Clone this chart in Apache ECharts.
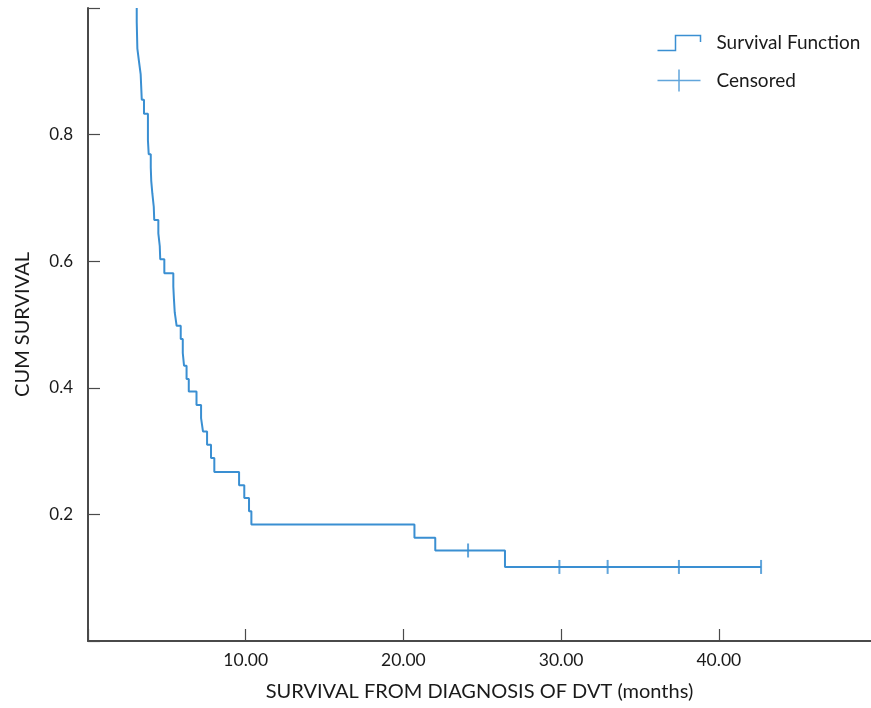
<!DOCTYPE html>
<html>
<head>
<meta charset="utf-8">
<script src="https://cdn.jsdelivr.net/npm/echarts@6/dist/echarts.min.js"></script>
<style>
  html, body { margin: 0; padding: 0; background: #fff; }
  #chart { width: 871px; height: 708px; }
</style>
</head>
<body>
<div id="chart"></div>
<script>
// Kaplan-Meier steps (months, cumulative survival after the drop)
const eventTimes = [3.09, 3.13, 3.23, 3.34, 3.41, 3.55, 3.80, 3.85, 3.98, 4.01,
  4.08, 4.17, 4.20, 4.46, 4.55, 4.58, 4.84, 5.41, 5.45, 5.50,
  5.62, 5.88, 6.01, 6.09, 6.25, 6.39, 6.88, 7.17, 7.29, 7.55,
  7.80, 8.01, 9.58, 9.91, 10.21, 10.36, 20.70, 22.02, 26.44];
const survival = [0.978, 0.936, 0.916, 0.895, 0.855, 0.833, 0.791, 0.769, 0.748, 0.727,
  0.707, 0.686, 0.665, 0.644, 0.624, 0.603, 0.581, 0.560, 0.540, 0.519,
  0.498, 0.477, 0.455, 0.435, 0.414, 0.394, 0.373, 0.352, 0.331, 0.310,
  0.289, 0.267, 0.246, 0.226, 0.205, 0.184, 0.163, 0.143, 0.117];
const censorTimes = [24.10, 29.89, 32.95, 37.47, 42.68];
const censorSurvival = [0.143, 0.117, 0.117, 0.117, 0.117];
const lastFollowUp = 42.68;

const xTicks = [10, 20, 30, 40];
const yTicks = [0.2, 0.4, 0.6, 0.8];

const BLUE = '#3a8fd2';
const AXIS = '#4a4a4a';
const FONT = 'Lato';

const curve = [[eventTimes[0], 1.0]];
eventTimes.forEach((t, i) => curve.push([t, survival[i]]));
curve.push([lastFollowUp, survival[survival.length - 1]]);

const censored = censorTimes.map((t, i) => [t, censorSurvival[i]]);

const chart = echarts.init(document.getElementById('chart'), null, { renderer: 'canvas' });

const legendText = { fontFamily: FONT, fontSize: 19, color: '#1a1a1a' };

chart.setOption({
  animation: false,
  backgroundColor: '#fff',
  textStyle: { fontFamily: FONT },
  grid: { left: 88, right: 0, top: 8, bottom: 67 },
  legend: [
    {
      data: [{
        name: 'Survival Function',
        icon: 'path://M0,15 L18,15 L18,0 L43,0 L43,6.5',
        itemStyle: { color: 'none', borderColor: BLUE, borderWidth: 1.5 }
      }],
      left: 655, top: 33, padding: 0,
      itemWidth: 43, itemHeight: 15,
      textStyle: Object.assign({ padding: [0, 0, 0, 11] }, legendText)
    },
    {
      data: [{
        name: 'Censored',
        icon: 'path://M0,11 L43,11 M21.5,0 L21.5,22',
        itemStyle: { color: 'none', borderColor: BLUE, borderWidth: 1.5 }
      }],
      left: 655, top: 67, padding: 0,
      itemWidth: 43, itemHeight: 22,
      textStyle: Object.assign({ padding: [0, 0, 11, 11] }, legendText)
    }
  ],
  xAxis: {
    type: 'value',
    min: 0,
    max: 49.65,
    interval: 10,
    name: 'SURVIVAL FROM DIAGNOSIS OF DVT (months)',
    nameLocation: 'middle',
    nameGap: 41,
    nameTextStyle: { fontFamily: FONT, fontSize: 20, color: '#1a1a1a' },
    axisLine: { show: true, lineStyle: { color: AXIS, width: 2 } },
    axisTick: { show: true, inside: true, length: 12, lineStyle: { color: AXIS, width: 1.2 } },
    axisLabel: {
      fontFamily: FONT, fontSize: 17.5, color: '#1a1a1a', margin: 10,
      showMaxLabel: false,
      formatter: v => (xTicks.includes(v) ? v.toFixed(2) : '')
    },
    splitLine: { show: false }
  },
  yAxis: {
    type: 'value',
    min: 0,
    max: 1,
    interval: 0.2,
    name: 'CUM SURVIVAL',
    nameLocation: 'middle',
    nameGap: 55,
    nameTextStyle: { fontFamily: FONT, fontSize: 20, color: '#1a1a1a' },
    axisLine: { show: true, lineStyle: { color: AXIS, width: 2 } },
    axisTick: { show: true, inside: true, length: 12, lineStyle: { color: AXIS, width: 1.2 } },
    axisLabel: {
      fontFamily: FONT, fontSize: 17, color: '#1a1a1a', margin: 15,
      formatter: v => {
        const r = Math.round(v * 10) / 10;
        return yTicks.some(t => Math.abs(t - r) < 1e-9) ? r.toFixed(1) : '';
      }
    },
    splitLine: { show: false }
  },
  series: [
    {
      name: 'Survival Function',
      type: 'line',
      step: 'end',
      data: curve,
      symbol: 'none',
      lineStyle: { color: BLUE, width: 2 },
      itemStyle: { color: BLUE }
    },
    {
      name: 'Censored',
      type: 'scatter',
      data: censored,
      symbol: 'rect',
      symbolSize: [2, 14],
      itemStyle: { color: BLUE }
    }
  ]
});
</script>
</body>
</html>
